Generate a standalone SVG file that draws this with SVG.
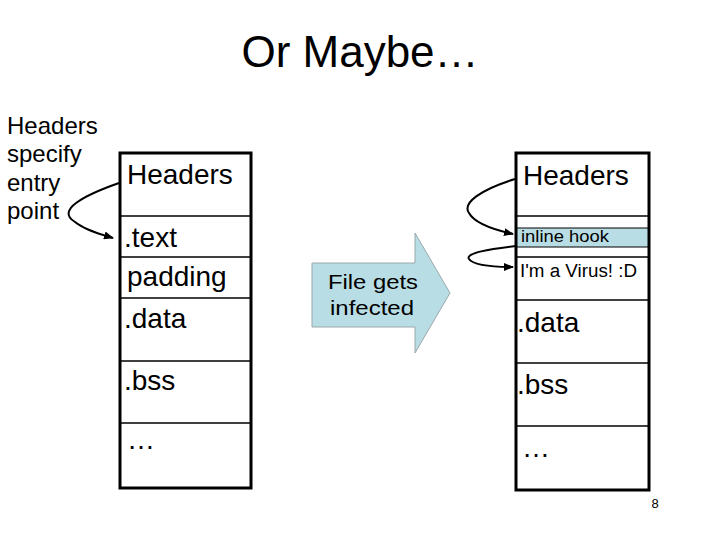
<svg xmlns="http://www.w3.org/2000/svg" width="720" height="540" viewBox="0 0 720 540">
<style>
text{font-family:"Liberation Sans",Arial,sans-serif;fill:#000}
.box{fill:none;stroke:#000;stroke-width:3}
.div{stroke:#000;stroke-width:1.5}
.lbl{font-size:28px}
.sm{font-size:17px}
.note{font-size:24px}
.conn{fill:none;stroke:#000;stroke-width:2}
</style>
<defs>
<marker id="ah" markerWidth="10" markerHeight="8" refX="9" refY="4" orient="auto" markerUnits="userSpaceOnUse">
<path d="M0,0 L10,4 L0,8 Z" fill="#000"/>
</marker>
</defs>
<rect width="720" height="540" fill="#fff"/>
<text x="360" y="67" font-size="44" text-anchor="middle">Or Maybe…</text>
<g id="note">
<text class="note" x="7" y="134">Headers</text>
<text class="note" x="7" y="162">specify</text>
<text class="note" x="7" y="191">entry</text>
<text class="note" x="7" y="219">point</text>
</g>
<g id="left-file">
<line class="div" x1="120" y1="216" x2="251" y2="216"/>
<line class="div" x1="120" y1="257" x2="251" y2="257"/>
<line class="div" x1="120" y1="298" x2="251" y2="298"/>
<line class="div" x1="120" y1="361" x2="251" y2="361"/>
<line class="div" x1="120" y1="423" x2="251" y2="423"/>
<rect class="box" x="120" y="153" width="131" height="335"/>
<text class="lbl" x="127" y="184">Headers</text>
<text class="lbl" x="124" y="247">.text</text>
<text class="lbl" x="127" y="286">padding</text>
<text class="lbl" x="124" y="328">.data</text>
<text class="lbl" x="124" y="390">.bss</text>
<text class="lbl" x="127" y="449">…</text>
</g>
<g id="infect-arrow">
<path d="M312,263 L415,263 L415,233 L450,293 L415,353 L415,327 L312,327 Z" fill="#b9dde4" stroke="#9aa8ac" stroke-width="1"/>
<text x="328" y="289" font-size="21" textLength="90" lengthAdjust="spacingAndGlyphs">File gets</text>
<text x="330" y="315" font-size="21" textLength="84" lengthAdjust="spacingAndGlyphs">infected</text>
</g>
<g id="right-file">
<rect x="516" y="228" width="133" height="19" fill="#b9dde4" stroke="#000" stroke-width="1"/>
<line class="div" x1="516" y1="216" x2="649" y2="216"/>
<line class="div" x1="516" y1="257" x2="649" y2="257"/>
<line class="div" x1="516" y1="300" x2="649" y2="300"/>
<line class="div" x1="516" y1="363" x2="649" y2="363"/>
<line class="div" x1="516" y1="426" x2="649" y2="426"/>
<rect class="box" x="516" y="153" width="133" height="337"/>
<text class="lbl" x="523" y="185">Headers</text>
<text class="sm" x="521" y="242" textLength="88" lengthAdjust="spacingAndGlyphs">inline hook</text>
<text x="520" y="277" font-size="18" textLength="117" lengthAdjust="spacingAndGlyphs">I'm a Virus! :D</text>
<text class="lbl" x="517" y="332">.data</text>
<text class="lbl" x="517" y="394">.bss</text>
<text class="lbl" x="522" y="457">…</text>
</g>
<g id="connectors">
<path class="conn" d="M119,183 C85,195 55,210 75,222 C85,230 100,234 113,238" marker-end="url(#ah)"/>
<path class="conn" d="M515,179 C480,190 462,203 469,213 C475,224 495,230 513,234" marker-end="url(#ah)"/>
<path class="conn" d="M516,246 C490,249 465,253 469,259 C474,266 495,267 513,267" marker-end="url(#ah)"/>
</g>
<text x="655" y="508" font-size="13" text-anchor="middle">8</text>
</svg>
